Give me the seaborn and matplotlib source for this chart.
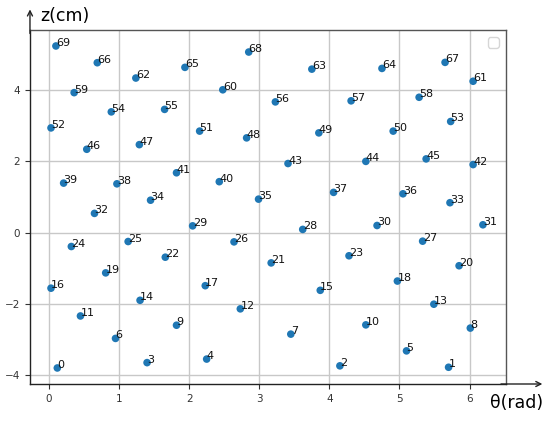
import matplotlib
matplotlib.use("Agg")
import matplotlib.pyplot as plt
import seaborn as sns
import pandas as pd

labels = list(range(70))
theta = [0.12, 5.70, 4.15, 1.40, 2.25, 5.10, 0.95, 3.45, 6.01, 1.82,
         4.52, 0.45, 2.73, 5.49, 1.30, 3.87, 0.03, 2.23, 4.97, 0.81,
         5.85, 3.17, 1.66, 4.28, 0.32, 1.13, 2.64, 5.33, 3.62, 2.05,
         4.68, 6.19, 0.65, 5.72, 1.45, 2.99, 5.05, 4.06, 0.97, 0.21,
         2.43, 1.82, 6.05, 3.41, 4.52, 5.38, 0.54, 1.29, 2.82, 3.85,
         4.91, 2.15, 0.03, 5.73, 0.89, 1.65, 3.23, 4.31, 5.28, 0.36,
         2.48, 6.05, 1.24, 3.75, 4.75, 1.94, 0.69, 5.65, 2.85, 0.10]
z = [-3.80, -3.78, -3.74, -3.65, -3.55, -3.32, -2.97, -2.85, -2.68, -2.60,
     -2.59, -2.34, -2.14, -2.01, -1.90, -1.62, -1.56, -1.49, -1.36, -1.13,
     -0.93, -0.85, -0.69, -0.65, -0.39, -0.25, -0.26, -0.24, 0.09, 0.19,
     0.20, 0.22, 0.54, 0.84, 0.91, 0.94, 1.09, 1.13, 1.37, 1.39,
     1.43, 1.68, 1.91, 1.94, 2.00, 2.07, 2.34, 2.47, 2.66, 2.80,
     2.85, 2.85, 2.94, 3.12, 3.39, 3.46, 3.67, 3.70, 3.80, 3.93,
     4.01, 4.25, 4.34, 4.59, 4.61, 4.64, 4.77, 4.78, 5.07, 5.24]

df = pd.DataFrame({"theta": theta, "z": z, "label": labels})

fig = plt.figure(figsize=(5.5, 4.23), dpi=100)
ax = fig.add_axes([0.0545, 0.0922, 0.865, 0.837])

sns.scatterplot(data=df, x="theta", y="z", ax=ax, color="#1f77b4",
                s=30, edgecolor="none", linewidth=0, zorder=3)
for t, zz, lab in zip(df["theta"], df["z"], df["label"]):
    ax.text(t, zz, str(lab), fontsize=8, color="#111111", zorder=4)

ax.set_xlim(-0.27, 6.515)
ax.set_ylim(-4.25, 5.69)
ax.set_xlabel("")
ax.set_ylabel("")
ax.set_xticks([0, 1, 2, 3, 4, 5, 6])
ax.set_yticks([-4, -2, 0, 2, 4])
ax.tick_params(labelsize=7.5, length=3.5, width=0.8, colors="#333333")
ax.grid(True, color="#c8c8c8", linewidth=1.0, zorder=0)
ax.set_axisbelow(True)
for sp in ax.spines.values():
    sp.set_color("#555555")
    sp.set_linewidth(1.0)
ax.spines["left"].set_color("#222222")
ax.spines["bottom"].set_color("#222222")

# axis arrows
ax.annotate("", xy=(1.077, 0), xytext=(0.99, 0), xycoords="axes fraction",
            arrowprops=dict(arrowstyle="->", color="#222222", lw=1.0,
                            mutation_scale=9, shrinkA=0, shrinkB=0),
            annotation_clip=False)
ax.annotate("", xy=(0.0, 1.058), xytext=(0.0, 0.99), xycoords="axes fraction",
            arrowprops=dict(arrowstyle="->", color="#222222", lw=1.0,
                            mutation_scale=9, shrinkA=0, shrinkB=0),
            annotation_clip=False)
fig.text(40 / 550, 1 - 16 / 423, "z(cm)", fontsize=12.5, va="center", ha="left")
fig.text(543 / 550, 1 - 403 / 423, "θ(rad)", fontsize=12.5, va="center", ha="right")

leg = ax.legend(handles=[], loc="upper right")

fig.savefig("out.png", dpi=100)
